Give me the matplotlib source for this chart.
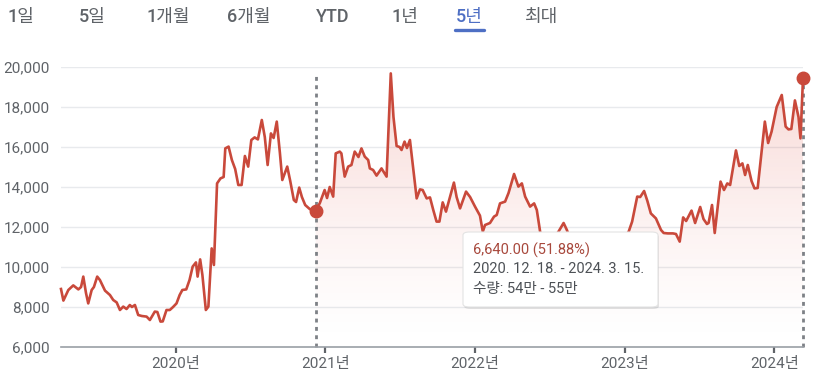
import matplotlib
matplotlib.use("Agg")
import matplotlib.pyplot as plt
import numpy as np
from matplotlib.patches import FancyBboxPatch
from matplotlib.lines import Line2D

# --- data (decimal year, price) ---
years = [
    2019.233, 2019.249, 2019.282, 2019.315, 2019.349, 2019.367, 2019.382, 2019.400, 2019.415, 2019.438,
    2019.453, 2019.475, 2019.493, 2019.527, 2019.560, 2019.582, 2019.605, 2019.627, 2019.649, 2019.671,
    2019.693, 2019.707, 2019.727, 2019.749, 2019.773, 2019.805, 2019.827, 2019.860, 2019.877, 2019.898,
    2019.913, 2019.938, 2019.960, 2019.982, 2020.005, 2020.026, 2020.044, 2020.070, 2020.092, 2020.113,
    2020.135, 2020.146, 2020.163, 2020.178, 2020.201, 2020.218, 2020.240, 2020.255, 2020.276, 2020.299,
    2020.320, 2020.331, 2020.353, 2020.375, 2020.397, 2020.418, 2020.440, 2020.462, 2020.484, 2020.505,
    2020.527, 2020.549, 2020.575, 2020.595, 2020.614, 2020.636, 2020.654, 2020.675, 2020.696, 2020.712,
    2020.745, 2020.765, 2020.789, 2020.804, 2020.825, 2020.843, 2020.865, 2020.895, 2020.935, 2020.963,
    2020.995, 2021.011, 2021.029, 2021.052, 2021.069, 2021.096, 2021.107, 2021.129, 2021.152, 2021.174,
    2021.196, 2021.221, 2021.241, 2021.263, 2021.286, 2021.297, 2021.319, 2021.342, 2021.375, 2021.409,
    2021.437, 2021.455, 2021.476, 2021.496, 2021.509, 2021.529, 2021.545, 2021.565, 2021.587, 2021.610,
    2021.632, 2021.650, 2021.677, 2021.699, 2021.721, 2021.743, 2021.762, 2021.784, 2021.806, 2021.833,
    2021.859, 2021.877, 2021.900, 2021.940, 2021.967, 2022.000, 2022.033, 2022.052, 2022.067, 2022.100,
    2022.127, 2022.145, 2022.167, 2022.201, 2022.224, 2022.261, 2022.290, 2022.313, 2022.335, 2022.368,
    2022.395, 2022.413, 2022.435, 2022.460, 2022.487, 2022.513, 2022.533, 2022.558, 2022.592, 2022.614,
    2022.641, 2022.681, 2022.721, 2022.761, 2022.801, 2022.841, 2022.882, 2022.922, 2022.962, 2023.002,
    2023.027, 2023.050, 2023.084, 2023.104, 2023.130, 2023.152, 2023.175, 2023.209, 2023.243, 2023.261,
    2023.289, 2023.323, 2023.343, 2023.368, 2023.391, 2023.411, 2023.447, 2023.471, 2023.505, 2023.527,
    2023.550, 2023.561, 2023.584, 2023.602, 2023.641, 2023.664, 2023.686, 2023.705, 2023.744, 2023.766,
    2023.787, 2023.805, 2023.823, 2023.848, 2023.868, 2023.889, 2023.937, 2023.959, 2023.982, 2024.016,
    2024.050, 2024.076, 2024.095, 2024.114, 2024.138, 2024.162, 2024.175, 2024.192,
]
prices = [
    8900, 8320, 8850, 9080, 8880, 9000, 9520, 8700, 8180, 8850,
    9000, 9520, 9350, 8820, 8600, 8350, 8230, 7850, 8020, 7900,
    8100, 8000, 8100, 7600, 7550, 7520, 7350, 7770, 7750, 7270,
    7280, 7850, 7850, 8000, 8180, 8600, 8850, 8880, 9350, 10020,
    10230, 9520, 10380, 9600, 7850, 8020, 10930, 10100, 14180, 14430,
    14500, 15930, 16020, 15350, 14900, 14100, 14100, 15550, 15020, 16350,
    16480, 16380, 17350, 16500, 15100, 16680, 16450, 17270, 15700, 14350,
    15020, 14300, 13350, 13250, 13970, 13500, 13100, 12900, 12800, 13200,
    13850, 13450, 14000, 13520, 15680, 15770, 15680, 14520, 15020, 15100,
    15770, 15500, 15930, 15520, 15350, 14930, 14850, 14570, 14930, 14520,
    19680, 17500, 16050, 16000, 15850, 16270, 15950, 16350, 14900, 13430,
    13880, 13850, 13430, 13480, 12850, 12270, 12270, 13230, 12770, 13500,
    14220, 13500, 12930, 13770, 13500, 13020, 12570, 11770, 12100, 12200,
    12520, 12600, 13180, 13270, 13700, 14650, 14020, 14180, 13520, 13020,
    13180, 12850, 11770, 11200, 10900, 11100, 11500, 11770, 12200, 11850,
    11300, 10800, 10500, 10900, 10600, 10300, 10700, 11000, 11200, 11500,
    11770, 12270, 13520, 13500, 13800, 13300, 12680, 12430, 11850, 11700,
    11680, 11680, 11650, 11270, 12480, 12300, 12820, 12200, 13000, 12400,
    12150, 12200, 13100, 11700, 14270, 13850, 14180, 14100, 15830, 15050,
    15180, 14600, 15100, 14300, 13930, 13950, 17270, 16200, 16770, 18000,
    18600, 17020, 16880, 16900, 18330, 17500, 16430, 19430,
]
year_ticks = [2020, 2021, 2022, 2023, 2024]
tick_labels = [f"{y}년" for y in year_ticks]
start_idx = 78  # 2020. 12. 18.
tabs = ["1일", "5일", "1개월", "6개월", "YTD", "1년", "5년", "최대"]
tab_x = [21, 92, 168, 249, 333, 405, 469, 541]
tooltip_lines = ["6,640.00 (51.88%)", "2020. 12. 18. - 2024. 3. 15.", "수량: 54만 - 55만"]

FONT = ["Roboto", "Noto Sans CJK KR", "DejaVu Sans"]
plt.rcParams["font.family"] = FONT
RED = "#c9493b"
GRAY = "#5f6368"

W, H = 819, 383
fig = plt.figure(figsize=(W / 100, H / 100), dpi=100)
fig.patch.set_facecolor("white")
ax = fig.add_axes([61 / W, 36 / H, 742 / W, 280 / H])

x = np.array(years)
y = np.array(prices)
x0, x1 = x[0], x[-1]
ymin, ymax = 6000, 20000

# gradient fill from the selected start to the end
fx, fy = x[start_idx:], y[start_idx:]
poly = ax.fill_between(fx, fy, ymin, facecolor="none", edgecolor="none")
grad = np.zeros((200, 2, 4))
grad[..., 0] = 0.88
grad[..., 1] = 0.33
grad[..., 2] = 0.28
grad[..., 3] = (np.linspace(0.0, 1.0, 200) ** 1.4 * 0.24)[:, None]
img = ax.imshow(grad, extent=[x0, x1, ymin, ymax], origin="lower", aspect="auto", zorder=1)
img.set_clip_path(poly.get_paths()[0], transform=ax.transData)

ax.plot(x, y, color=RED, lw=1.9, zorder=3, solid_joinstyle="round", clip_on=False)

# range markers
for i in (start_idx, len(x) - 1):
    ax.vlines(x[i], ymin, 19750, colors="#7d8186", linestyles=(0, (1.4, 1.6)), lw=2, zorder=2,
              clip_on=False)
    ax.plot(x[i], y[i], "o", color=RED, ms=9, zorder=4, clip_on=False)

ax.set_xlim(x0, x1)
ax.set_ylim(ymin, ymax)
ax.set_yticks(range(6000, 20001, 2000))
ax.set_yticklabels([f"{v:,}" for v in range(6000, 20001, 2000)])
ax.set_xticks(year_ticks)
ax.set_xticklabels(tick_labels)
ax.grid(axis="y", color="#e8eaed", lw=1)
ax.set_axisbelow(True)
for s in ("top", "right", "left"):
    ax.spines[s].set_visible(False)
ax.spines["bottom"].set_color("#9aa0a6")
ax.spines["bottom"].set_linewidth(1.2)
ax.tick_params(axis="y", length=0, pad=8, labelsize=11, labelcolor=GRAY)
ax.tick_params(axis="x", length=4, width=1.6, color="#5f6368", pad=3, labelsize=11, labelcolor=GRAY)

# period tabs
for t, tx in zip(tabs, tab_x):
    sel = t == "5년"
    fig.text(tx / W, 1 - 17 / H, t, ha="center", va="center", fontsize=13,
             color="#4e6fc4" if sel else GRAY, fontweight="medium")
fig.add_artist(Line2D([455 / W, 484 / W], [1 - 30 / H, 1 - 30 / H], color="#4e6fc4", lw=2.4,
                      solid_capstyle="round", transform=fig.transFigure))

# tooltip
bx, by, bw, bh = 463, 232, 195, 75
shadow = FancyBboxPatch(((bx + 1) / W, 1 - (by + bh + 2) / H), bw / W, bh / H,
                        boxstyle="round,pad=0,rounding_size=0.008", transform=fig.transFigure,
                        facecolor="#000000", alpha=0.10, edgecolor="none", zorder=9)
box = FancyBboxPatch((bx / W, 1 - (by + bh) / H), bw / W, bh / H,
                     boxstyle="round,pad=0,rounding_size=0.008", transform=fig.transFigure,
                     facecolor="white", edgecolor="#e3e3e3", lw=0.8, zorder=10)
fig.add_artist(shadow)
fig.add_artist(box)
for k, (txt, ty) in enumerate(zip(tooltip_lines, [250, 269, 289])):
    fig.text(473 / W, 1 - ty / H, txt, ha="left", va="center", fontsize=10.5,
             color="#a8493d" if k == 0 else "#4d5156", zorder=11)

fig.savefig("out.png", dpi=100)
